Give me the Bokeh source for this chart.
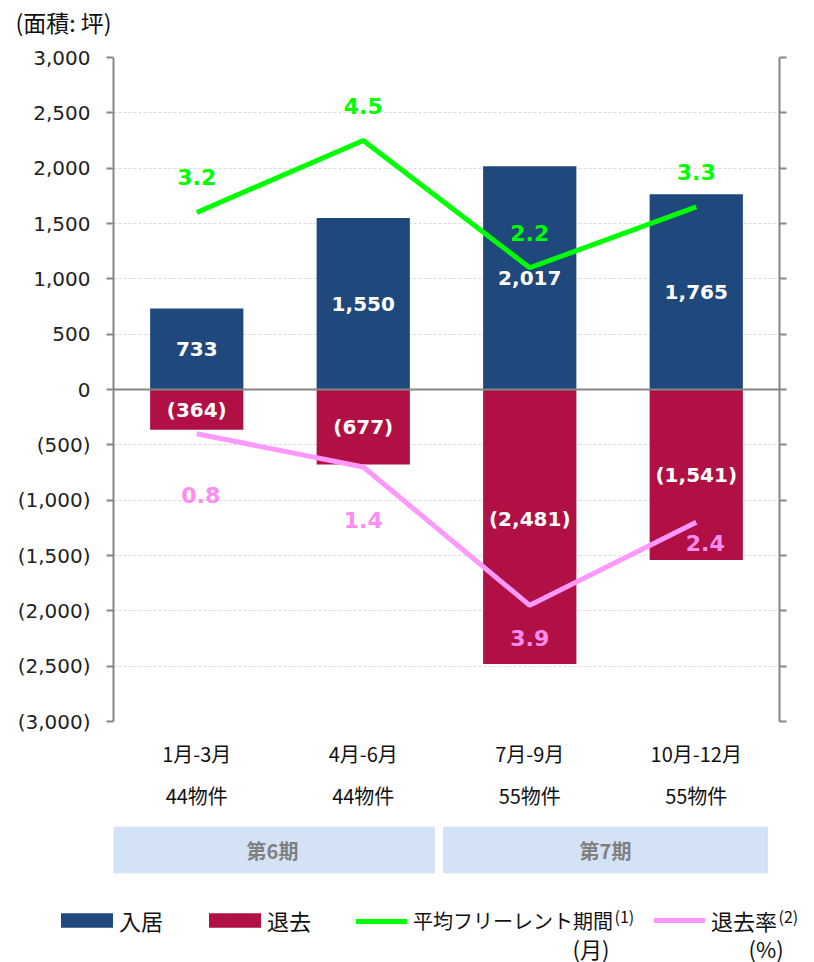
from bokeh.plotting import figure
from bokeh.models import (Range1d, LinearAxis, FixedTicker, Span, ColumnDataSource, Grid,
                          Legend, LegendItem)
from bokeh.layouts import column
from bokeh.core.properties import value
from bokeh.embed import file_html
from bokeh.resources import INLINE

# ---------------- data ----------------
quarters = ["1月-3月", "4月-6月", "7月-9月", "10月-12月"]
properties = ["44物件", "44物件", "55物件", "55物件"]
move_in = [733, 1550, 2017, 1765]
move_out = [-364, -677, -2481, -1541]
free_rent = [3.2, 4.5, 2.2, 3.3]       # months
move_out_rate = [0.8, 1.4, 3.9, 2.4]   # %
periods = ["第6期", "第7期"]
period_first = [0, 2]
period_last = [1, 3]
y_ticks = [3000, 2500, 2000, 1500, 1000, 500, 0, -500, -1000, -1500, -2000, -2500, -3000]
y_tick_labels = ["3,000", "2,500", "2,000", "1,500", "1,000", "500", "0",
                 "(500)", "(1,000)", "(1,500)", "(2,000)", "(2,500)", "(3,000)"]
unit_title = "(面積: 坪)"
legend_labels = ["入居", "退去", "平均フリーレント期間", "退去率"]
legend_notes = ["(1)", "(2)"]
legend_units = ["(月)", "(%)"]

# ---------------- styles ----------------
BLUE = "#1F497D"
RED = "#B01043"
GREEN = "#00FF00"
PINK = "#FF99FF"
PINK_TXT = "#FF8CF0"
AXIS = "#868686"
NUM_FONT = "DejaVu Sans"
JP_FONT = "Noto Sans CJK JP"

xc = [i + 0.5 for i in range(len(quarters))]

# ---------------- unit title strip ----------------
tf = figure(width=814, height=40, x_range=Range1d(0, 814), y_range=Range1d(40, 0),
            output_backend="svg", toolbar_location=None, min_border=0,
            x_axis_location=None, y_axis_location=None)
tf.outline_line_color = None
tf.grid.visible = False
tf.text(x=[15], y=[21], text=[unit_title], text_font=value(JP_FONT), text_font_size="23px",
        text_color="#111111", text_baseline="middle", text_align="left")

# ---------------- main chart ----------------
p = figure(width=814, height=775, x_range=Range1d(0, 4), y_range=Range1d(-3000, 3000),
           output_backend="svg", toolbar_location=None,
           min_border_left=113, min_border_right=35, min_border_top=17, min_border_bottom=94,
           x_axis_location=None, y_axis_location=None)
p.outline_line_color = None
p.xgrid.visible = False
p.ygrid.visible = False
p.extra_y_ranges = {"months": Range1d(-6, 6), "rate": Range1d(6, -6)}

# left axis
ly = LinearAxis(ticker=FixedTicker(ticks=y_ticks),
                major_label_overrides={t: l for t, l in zip(y_ticks, y_tick_labels)})
ly.axis_line_color = AXIS
ly.axis_line_width = 2
ly.major_tick_line_color = AXIS
ly.major_tick_line_width = 2
ly.major_tick_out = 7
ly.major_tick_in = 0
ly.minor_tick_line_color = None
ly.major_label_text_font = NUM_FONT
ly.major_label_text_font_size = "20px"
ly.major_label_text_color = "#222222"
ly.major_label_standoff = 16
p.add_layout(ly, "left")

# right axis (no labels)
ry = LinearAxis(y_range_name="months", ticker=FixedTicker(ticks=list(range(-6, 7))))
ry.axis_line_color = AXIS
ry.axis_line_width = 2
ry.major_tick_line_color = AXIS
ry.major_tick_line_width = 2
ry.major_tick_out = 7
ry.major_tick_in = 0
ry.minor_tick_line_color = None
ry.major_label_text_font_size = "0px"
ry.major_label_text_color = None
p.add_layout(ry, "right")

# category axes below
ax1 = LinearAxis(ticker=FixedTicker(ticks=xc),
                 major_label_overrides={x: q for x, q in zip(xc, quarters)})
ax2 = LinearAxis(ticker=FixedTicker(ticks=xc),
                 major_label_overrides={x: q for x, q in zip(xc, properties)})
for ax, so in ((ax1, 11), (ax2, 4)):
    ax.axis_line_color = None
    ax.major_tick_line_color = None
    ax.minor_tick_line_color = None
    ax.major_label_text_font = JP_FONT
    ax.major_label_text_font_size = "20px"
    ax.major_label_text_color = "#111111"
    ax.major_label_standoff = so
    p.add_layout(ax, "below")

# grid
g = Grid(dimension=1, ticker=FixedTicker(ticks=y_ticks))
g.grid_line_color = "#DADADA"
g.grid_line_dash = "3 2"
g.grid_line_width = 1
p.add_layout(g)

# bars
src = ColumnDataSource(dict(x=xc, mi=move_in, mo=move_out,
                            mi_mid=[v / 2 for v in move_in], mo_mid=[v / 2 for v in move_out],
                            mi_lab=[f"{v:,}" for v in move_in],
                            mo_lab=[f"({-v:,})" for v in move_out],
                            mo_dy=[0, 0, -8, 0],
                            fr=free_rent, fr_lab=[f"{v:.1f}" for v in free_rent],
                            rt=move_out_rate, rt_lab=[f"{v:.1f}" for v in move_out_rate],
                            rt_dy=[61, 53, 33, 21], rt_dx=[4, 0, 0, 9]))
p.vbar(x="x", top="mi", bottom=0, width=0.56, fill_color=BLUE, line_color=None, source=src)
p.vbar(x="x", top="mo", bottom=0, width=0.56, fill_color=RED, line_color=None, source=src)

p.add_layout(Span(location=0, dimension="width", line_color=AXIS, line_width=2))

# lines
p.line("x", "fr", y_range_name="months", line_color=GREEN, line_width=5, source=src)
p.line("x", "rt", y_range_name="rate", line_color=PINK, line_width=5, source=src)

# bar labels
p.text("x", "mi_mid", text="mi_lab", source=src, text_align="center", text_baseline="middle",
       text_color="white", text_font=value(NUM_FONT), text_font_style="bold", text_font_size="20px")
p.text("x", "mo_mid", text="mo_lab", source=src, y_offset="mo_dy", text_align="center",
       text_baseline="middle", text_color="white", text_font=value(NUM_FONT),
       text_font_style="bold", text_font_size="20px")
# line labels
p.text("x", "fr", text="fr_lab", y_range_name="months", source=src, y_offset=-35,
       text_align="center", text_baseline="middle", text_color=GREEN,
       text_font=value(NUM_FONT), text_font_style="bold", text_font_size="22px")
p.text("x", "rt", text="rt_lab", y_range_name="rate", source=src, y_offset="rt_dy", x_offset="rt_dx",
       text_align="center", text_baseline="middle", text_color=PINK_TXT,
       text_font=value(NUM_FONT), text_font_style="bold", text_font_size="22px")

# ---------------- period boxes ----------------
pb = figure(width=814, height=70, x_range=p.x_range, y_range=Range1d(0, 1),
            output_backend="svg", toolbar_location=None,
            min_border_left=113, min_border_right=35, min_border_top=11, min_border_bottom=12,
            x_axis_location=None, y_axis_location=None)
pb.outline_line_color = None
pb.grid.visible = False
bsrc = ColumnDataSource(dict(l=[f - 0.02 for f in period_first], r=[l + 1 - 0.07 for l in period_last],
                             xm=[(f - 0.02 + l + 1 - 0.07) / 2 for f, l in zip(period_first, period_last)],
                             t=periods))
pb.quad(left="l", right="r", bottom=0, top=1, fill_color="#D3E2F4", line_color=None, source=bsrc)
pb.text("xm", 0.5, text="t", source=bsrc, text_align="center", text_baseline="middle",
        text_color="#808080", text_font=value(JP_FONT), text_font_style="bold", text_font_size="20px")

# ---------------- legend ----------------
pl = figure(width=814, height=77, x_range=Range1d(0, 814), y_range=Range1d(77, 0),
            output_backend="svg", toolbar_location=None, min_border=0,
            x_axis_location=None, y_axis_location=None)
pl.outline_line_color = None
pl.grid.visible = False
g_in = pl.vbar(x=[-1000], top=[-1000], width=1, fill_color=BLUE, line_color=None)
g_out = pl.vbar(x=[-1000], top=[-1000], width=1, fill_color=RED, line_color=None)
g_fr = pl.line(x=[-1000, -999], y=[-1000, -1000], line_color=GREEN, line_width=5, line_cap="round")
g_rt = pl.line(x=[-1000, -999], y=[-1000, -1000], line_color=PINK, line_width=5, line_cap="round")


def make_legend(labels, renderers, loc, gw, gh, standoff, spacing, size):
    lg = Legend(items=[LegendItem(label=lab, renderers=[r]) for lab, r in zip(labels, renderers)],
                orientation="horizontal", location=loc)
    lg.label_text_font = JP_FONT
    lg.label_text_font_size = size
    lg.label_text_color = "#111111"
    lg.label_standoff = standoff
    lg.glyph_width = gw
    lg.glyph_height = gh
    lg.spacing = spacing
    lg.padding = 0
    lg.margin = 0
    lg.border_line_color = None
    lg.background_fill_alpha = 0
    lg.click_policy = "none"
    pl.add_layout(lg, "center")


make_legend(legend_labels[:2], [g_in, g_out], (54, 26), 65, 18, 0, 39, "22px")
make_legend(legend_labels[2:3], [g_fr], (356, 27), 51, 16, 6, 0, "20px")
make_legend(legend_labels[3:], [g_rt], (654, 26), 51, 16, 6, 0, "22px")

pl.text(x=[614, 778], y=[30, 30], text=legend_notes, text_font=value(JP_FONT), text_font_size="16px",
        text_color="#111111", text_baseline="middle", text_align="left")
pl.text(x=[572, 748], y=[62, 62], text=legend_units, text_font=value(JP_FONT), text_font_size="22px",
        text_color="#111111", text_baseline="middle", text_align="left")

open("out.html", "w").write(file_html([tf, column(p, pb, spacing=0), pl], INLINE))
